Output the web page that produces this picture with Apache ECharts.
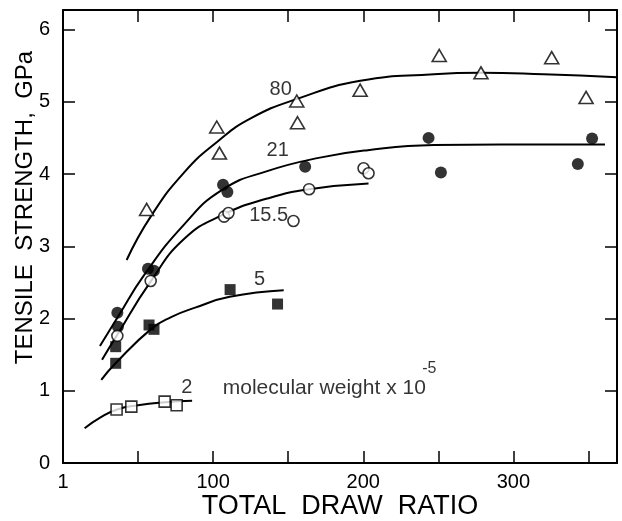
<!DOCTYPE html>
<html>
<head>
<meta charset="UTF-8">
<title>Tensile strength vs draw ratio</title>
<style>
  html, body { margin: 0; padding: 0; background: #fff; }
  #main { width: 622px; height: 521px; }
</style>
</head>
<body>
<div id="main"></div>
<script src="https://cdn.jsdelivr.net/npm/echarts@6/dist/echarts.min.js"></script>
<script>
// measured points, [draw ratio, strength GPa]
var tri80 = [[55.7, 3.51], [102.4, 4.65], [104.2, 4.29], [155.7, 5.01], [156.2, 4.71],
  [197.9, 5.16], [250.6, 5.64], [278.4, 5.40], [325.5, 5.61], [348.4, 5.06]];
var dot21 = [[36.2, 2.08], [36.6, 1.885], [56.6, 2.69], [60.6, 2.66], [106.6, 3.85],
  [109.5, 3.75], [161.3, 4.10], [243.5, 4.50], [251.7, 4.02], [342.9, 4.14], [352.4, 4.49]];
var ring155 = [[36.2, 1.76], [58.4, 2.52], [107.3, 3.41], [110.2, 3.46], [153.5, 3.35],
  [163.9, 3.79], [200.2, 4.08], [203.5, 4.01]];
var sq5 = [[35.1, 1.61], [35.1, 1.38], [57.3, 1.91], [60.6, 1.85], [111.3, 2.40], [142.9, 2.20]];
var box2 = [[35.7, 0.74], [45.5, 0.78], [67.7, 0.85], [75.7, 0.80]];

// hand drawn curves
var curve80 = [[42.4, 2.81], [58.4, 3.41], [80.6, 4.02], [103, 4.45], [125, 4.77], [156, 5.04],
  [198, 5.29], [247, 5.38], [278, 5.40], [320, 5.38], [369, 5.34]];
var curve21 = [[24.6, 1.62], [36.5, 2.02], [54, 2.6], [80.6, 3.3], [106, 3.78], [136, 4.04],
  [172, 4.23], [203, 4.33], [247, 4.40], [292, 4.41], [361, 4.41]];
var curve155 = [[26, 1.43], [36, 1.77], [58, 2.5], [80.6, 3.1], [107, 3.44], [136, 3.66],
  [164, 3.79], [203.5, 3.87]];
var curve5 = [[25.5, 1.15], [35, 1.38], [59, 1.86], [72, 2.02], [88, 2.15], [111, 2.3], [147, 2.39]];
var curve2 = [[14.4, 0.48], [25, 0.63], [36, 0.74], [50, 0.8], [68, 0.84], [86, 0.86]];

var curveLabels = [['80', 145, 5.17], ['21', 143, 4.33], ['15.5', 137, 3.43], ['5', 131, 2.54], ['2', 82.4, 1.04]];
var noteText = [['molecular weight x 10', 106.4, 1.03], ['-5', 244, 1.30]];

var xLabels = { 0: '1', 100: '100', 200: '200', 300: '300' };
var yLabels = [0, 1, 2, 3, 4, 5, 6];

var font = 'Liberation Sans, Arial, sans-serif';
var myChart = echarts.init(document.getElementById('main'));

function lineSeries(d) {
  return {
    type: 'line', data: d, smooth: 0.5, showSymbol: false, symbol: 'none',
    lineStyle: { color: '#000', width: 2 }, z: 2, silent: true
  };
}
function markSeries(d, symbol, size, filled) {
  return {
    type: 'scatter', data: d, symbol: symbol, symbolSize: size, z: 3,
    itemStyle: { color: filled ? '#000' : '#fff', borderColor: '#000', borderWidth: filled ? 0 : 1.6 }
  };
}
function textSeries(d, size, align) {
  return {
    type: 'scatter', symbolSize: 0, z: 4,
    data: d.map(function (t) { return { value: [t[1], t[2]], name: t[0] }; }),
    label: {
      show: true, position: 'inside', formatter: '{b}', color: '#000',
      fontFamily: font, fontSize: size, align: align
    }
  };
}

var axisBase = {
  type: 'value', splitLine: { show: false },
  axisLine: { show: true, onZero: false, lineStyle: { color: '#000', width: 2 } },
  axisTick: { show: true, inside: true, length: 12, lineStyle: { color: '#000', width: 1.5 } }
};

var option = {
  animation: false,
  backgroundColor: '#fff',
  grid: { left: 63, right: 5, top: 10, bottom: 58, outerBoundsMode: 'none', containLabel: false },
  xAxis: [
    Object.assign({}, axisBase, {
      min: 0, max: 369, interval: 50,
      name: 'TOTAL  DRAW  RATIO', nameLocation: 'middle', nameGap: 30, nameMoveOverlap: false,
      nameTextStyle: { fontFamily: font, fontSize: 27, color: '#000' },
      axisLabel: {
        fontFamily: font, fontSize: 20, color: '#000', margin: 9, showMaxLabel: false,
        formatter: function (v) { return xLabels[v] || ''; }
      }
    }),
    Object.assign({}, axisBase, {
      min: 0, max: 369, interval: 50, position: 'top', axisLabel: { show: false }
    })
  ],
  yAxis: [
    Object.assign({}, axisBase, {
      min: 0, max: 6.27, interval: 1,
      name: 'TENSILE  STRENGTH,  GPa', nameLocation: 'middle', nameGap: 26, nameRotate: 90,
      nameMoveOverlap: false,
      nameTextStyle: { fontFamily: font, fontSize: 24, color: '#000', padding: [0, 0, 0, 58] },
      axisLabel: {
        fontFamily: font, fontSize: 20, color: '#000', margin: 13, showMaxLabel: false,
        formatter: function (v) { return yLabels.indexOf(v) >= 0 ? String(v) : ''; }
      }
    }),
    Object.assign({}, axisBase, {
      min: 0, max: 6.27, interval: 1, position: 'right', axisLabel: { show: false }
    })
  ],
  series: [
    lineSeries(curve80), lineSeries(curve21), lineSeries(curve155), lineSeries(curve5), lineSeries(curve2),
    markSeries(tri80, 'triangle', [14, 12], false),
    markSeries(dot21, 'circle', 12, true),
    markSeries(ring155, 'circle', 11, false),
    markSeries(sq5, 'rect', 11, true),
    markSeries(box2, 'rect', 11, false),
    textSeries(curveLabels, 20, 'center'),
    textSeries(noteText.slice(0, 1), 21, 'left'),
    textSeries(noteText.slice(1), 16, 'center')
  ]
};

myChart.setOption(option);
</script>
</body>
</html>
